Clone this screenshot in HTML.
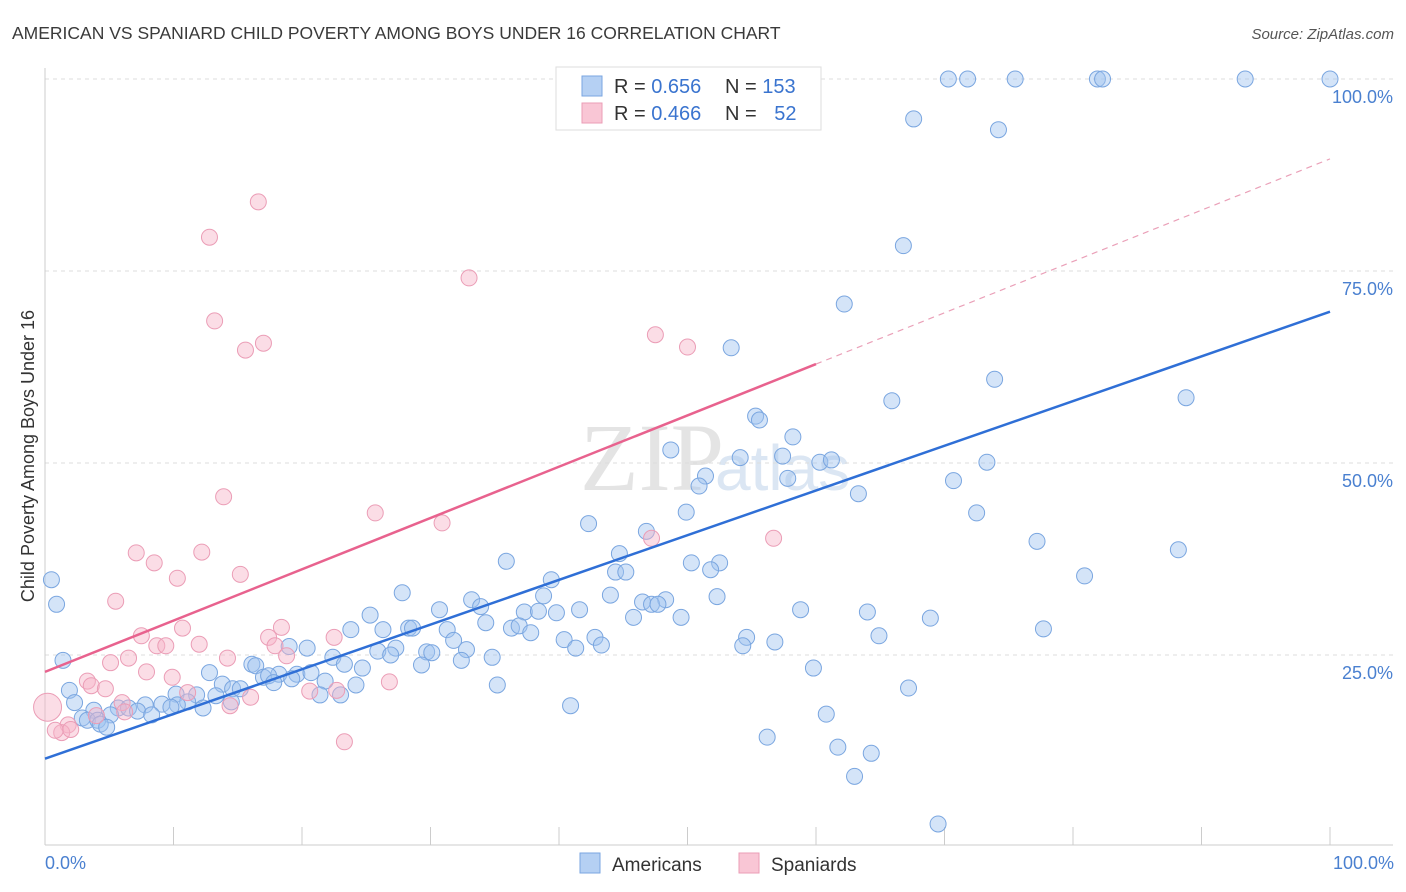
<!DOCTYPE html>
<html><head><meta charset="utf-8">
<style>
body{margin:0;background:#fff;font-family:"Liberation Sans",sans-serif}
svg{display:block}
</style></head><body>
<svg width="1406" height="892" viewBox="0 0 1406 892">
<text x="12" y="39" font-size="17.5" fill="#3a3a3a">AMERICAN VS SPANIARD CHILD POVERTY AMONG BOYS UNDER 16 CORRELATION CHART</text>
<text x="1394" y="39" font-size="15" fill="#555" font-style="italic" text-anchor="end">Source: ZipAtlas.com</text>
<text x="580" y="490" font-size="96" fill="#e4e4e4" font-family="Liberation Serif,serif">ZIP</text>
<text x="715" y="490" font-size="64" fill="#dbe6f3">atlas</text>
<g id="grid"></g>
<g id="axes"></g>
<g id="pts"></g>
<g id="lines"></g>
<text transform="translate(34,456) rotate(-90)" font-size="18" fill="#333" text-anchor="middle">Child Poverty Among Boys Under 16</text>
<text x="45" y="869" font-size="18" fill="#4a80d0">0.0%</text>
<text x="1394" y="869" font-size="18" fill="#4a80d0" text-anchor="end">100.0%</text>
<g>
<rect x="556" y="67" width="265" height="63" fill="#fff" stroke="#ddd"/>
<rect x="582" y="76" width="20" height="20" fill="#b5d0f3" stroke="#7aa6e0"/>
<rect x="582" y="103" width="20" height="20" fill="#f9c6d5" stroke="#eb9db6"/>
<text x="614" y="93" font-size="20" fill="#333">R = <tspan fill="#3a74cf">0.656</tspan></text>
<text x="725" y="93" font-size="20" fill="#333">N = <tspan fill="#3a74cf">153</tspan></text>
<text x="614" y="120" font-size="20" fill="#333">R = <tspan fill="#3a74cf">0.466</tspan></text>
<text x="725" y="120" font-size="20" fill="#333">N = <tspan fill="#3a74cf" dx="12">52</tspan></text>
</g>
<g>
<rect x="580" y="853" width="20" height="20" fill="#b5d0f3" stroke="#7aa6e0"/>
<text x="612" y="871" font-size="19" fill="#333">Americans</text>
<rect x="739" y="853" width="20" height="20" fill="#f9c6d5" stroke="#eb9db6"/>
<text x="771" y="871" font-size="19" fill="#333">Spaniards</text>
</g>
</svg>
<script>
const blueX=[59.1,70.3,71.8,75.5,81.9,82.3,93.4,100,67.6,74.2,66.8,62.2,53.4,73.9,65.9,88.8,55.3,55.6,58.2,48.7,54.1,57.4,60.3,61.2,73.3,51.4,50.9,57.8,70.7,63.3,49.9,72.5,42.3,46.8,77.2,88.2,44.7,35.9,50.3,52.5,51.8,44.4,45.2,39.4,80.9,52.3,27.8,44.0,38.8,33.2,33.9,46.5,48.3,47.2,47.7,30.7,37.3,38.4,39.8,41.6,45.8,49.5,58.8,64.0,68.9,25.3,34.3,36.3,36.9,37.8,23.8,26.3,28.3,28.6,31.3,77.7,64.9,42.8,31.8,40.4,54.6,56.8,43.3,41.3,54.3,19.0,20.4,27.3,32.8,25.9,29.7,30.1,26.9,22.4,34.8,32.4,29.3,23.3,16.1,16.4,24.7,59.8,1.4,12.8,18.2,19.6,20.7,17.0,17.4,19.2,17.8,21.8,13.8,24.2,35.2,14.6,15.2,67.2,1.9,21.4,23.0,10.2,11.8,13.3,2.3,11.1,10.3,7.8,9.1,9.8,5.7,6.5,7.2,12.3,14.5,40.9,3.8,8.3,5.1,2.9,3.3,4.1,60.8,4.3,4.8,56.2,61.7,64.3,63.0,69.5,0.5,0.9];
const blueY=[100,100,100,100,100,100,100,100,94.8,93.4,78.3,70.7,65.0,60.9,58.1,58.5,56.1,55.6,53.4,51.7,50.7,50.9,50.1,50.4,50.1,48.3,47.0,48.0,47.7,46.0,43.6,43.5,42.1,41.1,39.8,38.7,38.2,37.2,37.0,37.0,36.1,35.8,35.8,34.8,35.3,32.6,33.1,32.8,32.7,32.2,31.3,31.9,32.2,31.6,31.6,30.9,30.6,30.7,30.5,30.9,29.9,29.9,30.9,30.6,29.8,30.2,29.2,28.5,28.8,27.9,28.3,28.3,28.5,28.5,28.3,28.4,27.5,27.3,26.9,27.0,27.3,26.7,26.3,25.9,26.2,26.1,25.9,25.9,25.7,25.5,25.4,25.3,25.0,24.7,24.7,24.3,23.7,23.8,23.8,23.6,23.3,23.3,24.3,22.7,22.5,22.5,22.7,22.1,22.3,21.9,21.4,21.6,21.2,21.1,21.1,20.6,20.6,20.7,20.4,19.8,19.8,19.9,19.8,19.7,18.8,18.9,18.5,18.5,18.6,18.2,18.1,18.1,17.7,18.1,18.9,18.4,17.8,17.2,17.2,16.8,16.5,16.5,17.3,16.0,15.6,14.3,13.0,12.2,9.2,3.0,34.8,31.6];
const pinkX=[16.6,12.8,13.2,17.0,15.6,33.0,47.5,50.0,13.9,25.7,30.9,47.2,56.7,7.1,12.2,8.5,10.3,15.2,5.5,10.7,18.4,22.5,7.5,17.4,8.7,9.4,12.0,17.9,18.8,6.5,14.2,5.1,7.9,9.9,3.3,3.6,4.7,26.8,20.6,22.7,11.1,16.0,6.0,14.4,0.2,4.0,1.8,1.3,0.8,2.0,23.3,6.2];
const pinkY=[84.0,79.4,68.5,65.6,64.7,74.1,66.7,65.1,45.6,43.5,42.2,40.2,40.2,38.3,38.4,37.0,35.0,35.5,32.0,28.5,28.6,27.3,27.5,27.3,26.2,26.2,26.4,26.2,24.9,24.6,24.6,24.0,22.8,22.1,21.6,21.0,20.6,21.5,20.3,20.4,20.1,19.5,18.8,18.4,18.2,17.1,15.9,14.9,15.2,15.3,13.7,17.6];
const blueFit=[11.5,69.7];   // y at x=0 and x=100
const pinkFit=[22.8,89.6];   // y at x=0 and x=100 (solid to 60)
const pinkSolidEnd=60;
const yTicks=[25,50,75,100];
const xTicks=[0,10,20,30,40,50,60,70,80,90,100];

const NS="http://www.w3.org/2000/svg";
const sx=v=>45+v*12.85, sy=v=>847-v*7.68;
function mk(tag,attrs,parent){const e=document.createElementNS(NS,tag);for(const k in attrs)e.setAttribute(k,attrs[k]);document.getElementById(parent).appendChild(e);return e;}
yTicks.forEach(t=>{
  const g=mk('line',{x1:45,x2:1393,y1:sy(t),y2:sy(t),stroke:'#ddd','stroke-dasharray':'4,4'},'grid');
  
  
  const tx=mk('text',{x:1393,y:sy(t)+24,'font-size':18,fill:'#4a80d0','text-anchor':'end'},'grid');
  tx.textContent=t.toFixed(1)+'%';
  
  
});
const ya=mk('line',{x1:45,x2:45,y1:68,y2:845,stroke:'#ccc'},'axes');


const xa=mk('line',{x1:45,x2:1393,y1:845,y2:845,stroke:'#ccc'},'axes');


xTicks.forEach(t=>{
  const l=mk('line',{x1:sx(t),x2:sx(t),y1:827,y2:845,stroke:'#ccc'},'axes');
  
  
});
blueX.forEach((x,i)=>{
  const c=mk('circle',{cx:sx(x),cy:sy(blueY[i]),r:8,fill:'rgba(160,195,240,0.45)',stroke:'#7aa6e0','stroke-width':1},'pts');
  
  
});
pinkX.forEach((x,i)=>{
  const c=mk('circle',{cx:sx(x),cy:sy(pinkY[i]),r:i==44?14:8,fill:'rgba(246,180,200,0.45)',stroke:'#eb9db6','stroke-width':1},'pts');
  
  
});
const pf=x=>pinkFit[0]+(pinkFit[1]-pinkFit[0])*x/100;
const bl=mk('line',{x1:sx(0),y1:sy(blueFit[0]),x2:sx(100),y2:sy(blueFit[1]),stroke:'#2f6fd6','stroke-width':2.5},'lines');


const pl=mk('line',{x1:sx(0),y1:sy(pf(0)),x2:sx(pinkSolidEnd),y2:sy(pf(pinkSolidEnd)),stroke:'#e8628e','stroke-width':2.5},'lines');


const pd=mk('line',{x1:sx(pinkSolidEnd),y1:sy(pf(pinkSolidEnd)),x2:sx(100),y2:sy(pf(100)),stroke:'#eaa0b8','stroke-width':1.2,'stroke-dasharray':'6,5'},'lines');


</script>
</body></html>
